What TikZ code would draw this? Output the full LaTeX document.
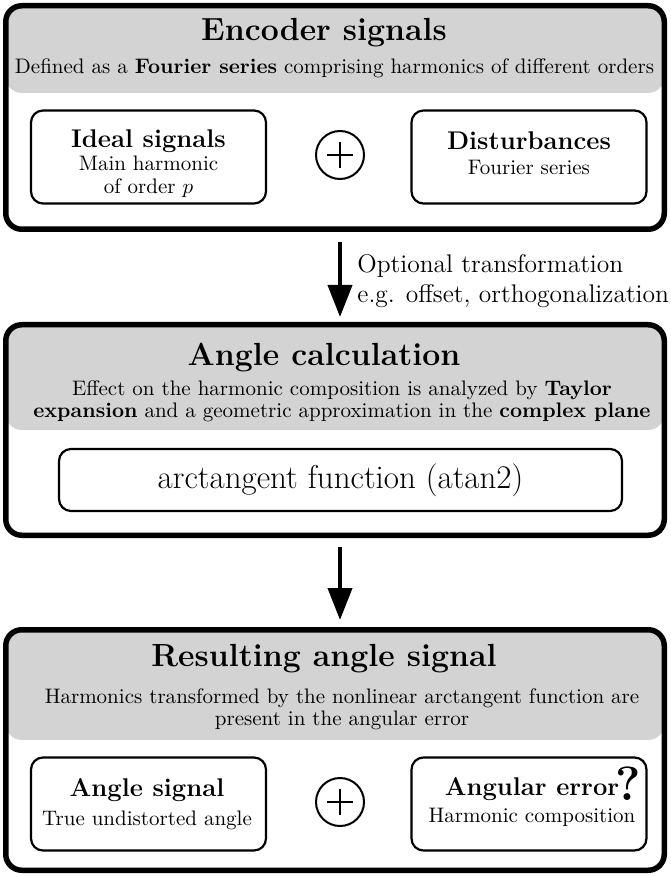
\RequirePackage{fix-cm}
\documentclass[tikz,border=0pt]{standalone}
\usetikzlibrary{arrows.meta}
\definecolor{hdrgray}{RGB}{211,211,211}
\tikzset{
  bigbox/.style={draw, line width=2.75pt, rounded corners=8pt, minimum width=329.25pt, inner sep=0pt,
    path picture={\fill[hdrgray] (path picture bounding box.north west) rectangle ([yshift=-#1]path picture bounding box.north east);}},
  smallbox/.style={draw, line width=1.1pt, rounded corners=6pt, minimum width=117.5pt, minimum height=46.5pt, inner sep=0pt},
  plusnode/.style={draw, circle, line width=1pt, minimum size=24pt, inner sep=0pt,
    path picture={\draw[line width=0.6pt] ([xshift=-6.3pt]path picture bounding box.center) -- ([xshift=6.3pt]path picture bounding box.center)
      ([yshift=-6.3pt]path picture bounding box.center) -- ([yshift=6.3pt]path picture bounding box.center);}},
  titletext/.style={font=\bfseries\fontsize{16}{18}\selectfont, inner sep=0pt},
  subtext/.style={font=\fontsize{10.5}{11}\selectfont, align=center, inner sep=0pt},
  boxtext/.style={font=\fontsize{10.5}{11.5}\selectfont, align=center, inner sep=0pt},
  arr/.style={line width=2pt, -{Triangle[length=16pt,width=12pt]}},
}
\newcommand{\boxtitle}[1]{{\bfseries\fontsize{12.8}{14}\selectfont #1}}
\begin{document}
\begin{tikzpicture}[x=0.5pt,y=-0.5pt]
\useasboundingbox (0,0) rectangle (670,876);

% Box 1
\node[bigbox=43.6pt, minimum height=111.75pt] (b1) at (335,117.5) {};
\node[titletext] (t1) at (324,33) {Encoder signals};
\node[subtext] (s1) at (334.5,68) {Defined as a \textbf{Fourier series} comprising harmonics of different orders};
\node[smallbox] (ideal) at (148.5,157) {};
\node[boxtext] (idealtxt) at (148.5,164) {\boxtitle{Ideal signals}\\Main harmonic\\of order $p$};
\node[plusnode] (plus1) at (340,155) {};
\node[smallbox] (dist) at (529,157) {};
\node[boxtext] (disttxt) at (529,153) {\boxtitle{Disturbances}\\[1pt]Fourier series};

% Box 2
\node[bigbox=52.6pt, minimum height=105.25pt] (b2) at (335,430) {};
\node[titletext] (t2) at (324,358) {Angle calculation};
\node[subtext] (s2) at (342,401) {Effect on the harmonic composition is analyzed by \textbf{Taylor}\\\textbf{expansion} and a geometric approximation in the \textbf{complex plane}};
\node[draw, line width=1.1pt, rounded corners=6pt, minimum width=281.5pt, minimum height=31pt, inner sep=0pt,
  font=\fontsize{16.5}{18}\selectfont] (atan) at (340.5,480) {arctangent function (atan2)};

% Box 3
\node[bigbox=55.1pt, minimum height=120.25pt] (b3) at (335,750) {};
\node[titletext] (t3) at (324,659) {Resulting angle signal};
\node[subtext] (s3) at (342,709) {Harmonics transformed by the nonlinear arctangent function are\\present in the angular error};
\node[smallbox] (angsig) at (148.5,804) {};
\node[boxtext] (angsigtxt) at (147,804) {\boxtitle{Angle signal}\\[3pt]True undistorted angle};
\node[plusnode] (plus2) at (340,802) {};
\node[smallbox] (angerr) at (529,804) {};
\node[boxtext] (angerrtxt) at (532,802) {\boxtitle{Angular error}\\[2pt]Harmonic composition};
\node[font=\bfseries\fontsize{24}{24}\selectfont, inner sep=0pt] (qm) at (628,784) {?};

% Arrows
\coordinate (ax) at (340,0);
\draw[arr, shorten <=5pt, shorten >=2.5pt] (b1.south -| ax) -- (b2.north -| ax);
\node[font=\fontsize{12.75}{15}\selectfont, align=left, anchor=west, inner sep=0pt] (opt) at (357,281)
  {Optional transformation\\e.g. offset, orthogonalization};
\draw[arr, shorten <=4.5pt, shorten >=3.5pt] (b2.south -| ax) -- (b3.north -| ax);
\end{tikzpicture}
\end{document}
